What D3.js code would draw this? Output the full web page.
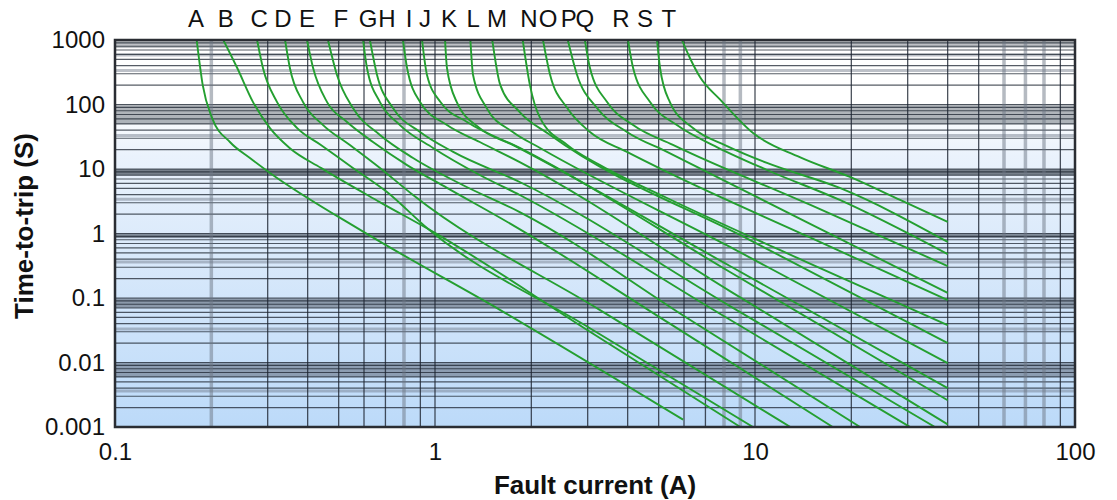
<!DOCTYPE html>
<html>
<head>
<meta charset="utf-8">
<script src="https://cdn.jsdelivr.net/npm/d3@7"></script>
<style>
  body { margin: 0; background: #fff; }
  svg { display: block; font-family: "Liberation Sans", Arial, sans-serif; }
</style>
</head>
<body>
<svg id="chart" width="1117" height="500"></svg>
<script>
'use strict';

// curve names shown above the plot, and where each label sits (amps)
var curveNames = ['A','B','C','D','E','F','G','H','I','J','K','L','M','N','O','P','Q','R','S','T'];
var labelCurrents = [0.179,0.222,0.282,0.335,0.398,0.508,0.618,0.708,0.83,0.93,
                     1.106,1.315,1.562,1.967,2.255,2.62,2.94,3.81,4.53,5.38];

// [fault current (A), time-to-trip (s)]
var tripCurves = [
  [[0.18,1000],[0.188,200],[0.201,62],[0.229,26],[0.264,14.8],[0.305,8.7],[0.6,1.05],[1.6,0.065],[5.96,0.0013]],
  [[0.218,1000],[0.241,368],[0.27,109],[0.305,43],[0.352,21],[0.44,10.4],[0.67,3.1],[0.99,1.05],[3.05,0.03],[9.0,0.001]],
  [[0.278,1000],[0.29,368],[0.321,109],[0.371,43],[0.44,23.6],[0.554,10.4],[0.708,4.4],[0.944,1.22],[3.05,0.034],[9.86,0.001]],
  [[0.34,1000],[0.352,368],[0.387,109],[0.447,48],[0.542,23.6],[0.673,10.4],[0.854,3.95],[3.28,0.065],[12.9,0.001]],
  [[0.398,1000],[0.416,368],[0.46,109],[0.531,53.5],[0.64,26.2],[0.818,11.5],[1.09,5.1],[1.75,1.35],[5.42,0.04],[17.5,0.001]],
  [[0.463,1000],[0.494,287],[0.554,88],[0.673,33.7],[0.854,14.8],[1.22,5.65],[1.84,2.15],[6.26,0.046],[21.3,0.001]],
  [[0.596,1000],[0.613,368],[0.673,109],[0.777,48],[0.986,21.2],[1.38,8.07],[1.84,3.95],[7.77,0.057],[30.5,0.001]],
  [[0.626,1000],[0.659,287],[0.739,88],[0.898,37.5],[1.14,18.4],[1.84,6.29],[8.35,0.075],[36.5,0.001]],
  [[0.794,1000],[0.818,368],[0.898,109],[1.09,48],[1.38,26.2],[1.84,12.8],[8.35,0.128],[40,0.0011]],
  [[0.911,1000],[0.944,287],[1.04,109],[1.26,53.5],[1.84,21.2],[8.35,0.253],[40,0.0026]],
  [[1.075,1000],[1.09,368],[1.17,109],[1.38,43],[1.75,23.6],[8.35,0.313],[40,0.004]],
  [[1.29,1000],[1.315,287],[1.45,88],[1.75,37.5],[2.13,21.2],[8.35,0.62],[40,0.0098]],
  [[1.51,1000],[1.6,200],[1.84,76.5],[2.29,33.7],[9.65,0.79],[40,0.02]],
  [[1.88,1000],[1.98,200],[2.13,62],[2.59,23.6],[3.28,11.5],[5.31,3.55],[14.5,0.36],[40,0.038]],
  [[2.175,1000],[2.29,287],[2.59,88],[3.05,37.5],[3.98,18.4],[5.31,9],[14.5,0.915],[40,0.093]],
  [[2.6,1000],[2.78,287],[3.21,88],[3.98,37.5],[5.31,18.4],[14.5,1.5],[40,0.12]],
  [[2.94,1000],[3.05,368],[3.45,109],[4.16,48],[5.54,23.6],[14.9,2.77],[40,0.313]],
  [[4.01,1000],[4.16,368],[4.7,109],[5.7,48],[7.6,21.9],[10.9,9.65],[18.4,3.31],[40,0.48]],
  [[4.94,1000],[5.05,368],[5.42,109],[6.4,43.2],[8.18,22.7],[10.9,12.4],[18.4,5.08],[40,0.74]],
  [[5.91,1000],[6.26,526],[6.73,267],[7.77,120],[9.86,36.1],[13.8,15.3],[19.8,7.52],[28.4,3.31],[40,1.51]]
];

var xTickValues = [0.1, 1, 10, 100];
var yTickValues = [0.001, 0.01, 0.1, 1, 10, 100, 1000];

// grid columns / rows drawn as soft grey stripes instead of thin dark lines
var shadedColumns = [0.2, 0.8, 8, 9, 60, 70, 80];
var shadedRows = [585, 337, 33, 3.4, 0.36, 0.033, 0.0036];

// darker bands hanging under each decade line: [low, high] and strength
var decadeBands = [[750,1000],[50,100],[8,10],[0.85,1],[0.07,0.1],[0.006,0.01]];
var bandOpacity = [0.35, 0.42, 0.7, 0.6, 0.5, 0.45];

var svg = d3.select('#chart');
var plotLeft = 115, plotRight = 1075, plotTop = 40, plotBottom = 427;

var x = d3.scaleLog().domain([0.1, 100]).range([plotLeft, plotRight]);
var y = d3.scaleLog().domain([0.001, 1000]).range([plotBottom, plotTop]);

var defs = svg.append('defs');
var grad = defs.append('linearGradient')
  .attr('id', 'bg')
  .attr('x1', 0).attr('y1', 0).attr('x2', 0).attr('y2', 1);
grad.append('stop').attr('offset', '0').attr('stop-color', '#ffffff');
grad.append('stop').attr('offset', '0.17').attr('stop-color', '#ffffff');
grad.append('stop').attr('offset', '0.3').attr('stop-color', '#eaf2fc');
grad.append('stop').attr('offset', '1').attr('stop-color', '#bcdaf9');

defs.append('clipPath').attr('id', 'plot-clip')
  .append('rect')
  .attr('x', plotLeft).attr('y', plotTop)
  .attr('width', plotRight - plotLeft).attr('height', plotBottom - plotTop);

svg.append('rect')
  .attr('x', plotLeft).attr('y', plotTop)
  .attr('width', plotRight - plotLeft).attr('height', plotBottom - plotTop)
  .attr('fill', 'url(#bg)');

var gGrid = svg.append('g').attr('clip-path', 'url(#plot-clip)');

gGrid.selectAll('rect.band')
  .data(decadeBands)
  .enter().append('rect')
  .attr('class', 'band')
  .attr('x', plotLeft)
  .attr('width', plotRight - plotLeft)
  .attr('y', function(d) { return y(d[1]); })
  .attr('height', function(d) { return y(d[0]) - y(d[1]); })
  .attr('fill', '#464e5a')
  .attr('fill-opacity', function(d, i) { return bandOpacity[i]; });

gGrid.selectAll('line.srow')
  .data(shadedRows)
  .enter().append('line')
  .attr('class', 'srow')
  .attr('x1', plotLeft).attr('x2', plotRight)
  .attr('y1', function(d) { return y(d); })
  .attr('y2', function(d) { return y(d); })
  .attr('stroke', '#6c7684')
  .attr('stroke-opacity', 0.45)
  .attr('stroke-width', 3);

gGrid.selectAll('line.hrow')
  .data(y.ticks())
  .enter().append('line')
  .attr('class', 'hrow')
  .attr('x1', plotLeft).attr('x2', plotRight)
  .attr('y1', function(d) { return y(d); })
  .attr('y2', function(d) { return y(d); })
  .attr('stroke', '#1e2632')
  .attr('stroke-opacity', 0.75)
  .attr('stroke-width', 1.2);

gGrid.selectAll('line.scol')
  .data(shadedColumns)
  .enter().append('line')
  .attr('class', 'scol')
  .attr('y1', plotTop).attr('y2', plotBottom)
  .attr('x1', function(d) { return x(d); })
  .attr('x2', function(d) { return x(d); })
  .attr('stroke', '#6c7684')
  .attr('stroke-opacity', 0.5)
  .attr('stroke-width', 3.5);

gGrid.selectAll('line.vcol')
  .data(x.ticks().filter(function(d) { return shadedColumns.indexOf(d) < 0; }))
  .enter().append('line')
  .attr('class', 'vcol')
  .attr('y1', plotTop).attr('y2', plotBottom)
  .attr('x1', function(d) { return x(d); })
  .attr('x2', function(d) { return x(d); })
  .attr('stroke', '#1e2632')
  .attr('stroke-opacity', 0.8)
  .attr('stroke-width', 1.3);

var line = d3.line()
  .x(function(d) { return x(d[0]); })
  .y(function(d) { return y(d[1]); })
  .curve(d3.curveMonotoneX);

svg.append('g')
  .attr('clip-path', 'url(#plot-clip)')
  .selectAll('path')
  .data(tripCurves)
  .enter().append('path')
  .attr('d', line)
  .attr('fill', 'none')
  .attr('stroke', '#249f30')
  .attr('stroke-width', 1.9);

svg.append('rect')
  .attr('x', plotLeft).attr('y', plotTop)
  .attr('width', plotRight - plotLeft).attr('height', plotBottom - plotTop)
  .attr('fill', 'none')
  .attr('stroke', '#2a2d33')
  .attr('stroke-width', 2.5);

// axes, labels only
var xAxis = svg.append('g')
  .attr('transform', 'translate(0,' + (plotBottom + 13) + ')')
  .call(d3.axisBottom(x).tickValues(xTickValues).tickFormat(d3.format('~g')).tickSize(0));
xAxis.select('.domain').remove();
xAxis.selectAll('text')
  .attr('font-size', 24).attr('fill', '#111')
  .attr('font-family', '"Liberation Sans", Arial, sans-serif');

var yAxis = svg.append('g')
  .attr('transform', 'translate(' + (plotLeft - 10) + ',0)')
  .call(d3.axisLeft(y).tickValues(yTickValues).tickFormat(d3.format('~g')).tickSize(0));
yAxis.select('.domain').remove();
yAxis.selectAll('text')
  .attr('x', 0)
  .attr('font-size', 24).attr('fill', '#111')
  .attr('font-family', '"Liberation Sans", Arial, sans-serif');

svg.append('g').selectAll('text')
  .data(curveNames)
  .enter().append('text')
  .attr('x', function(d, i) { return x(labelCurrents[i]); })
  .attr('y', 27)
  .attr('text-anchor', 'middle')
  .attr('font-size', 24)
  .attr('fill', '#111')
  .text(function(d) { return d; });

svg.append('text')
  .attr('x', (plotLeft + plotRight) / 2)
  .attr('y', 494)
  .attr('text-anchor', 'middle')
  .attr('font-size', 26)
  .attr('font-weight', 'bold')
  .attr('fill', '#111')
  .text('Fault current (A)');

svg.append('text')
  .attr('transform', 'translate(33,' + 226 + ') rotate(-90)')
  .attr('text-anchor', 'middle')
  .attr('font-size', 26)
  .attr('font-weight', 'bold')
  .attr('fill', '#111')
  .text('Time-to-trip (S)');
</script>
</body>
</html>
